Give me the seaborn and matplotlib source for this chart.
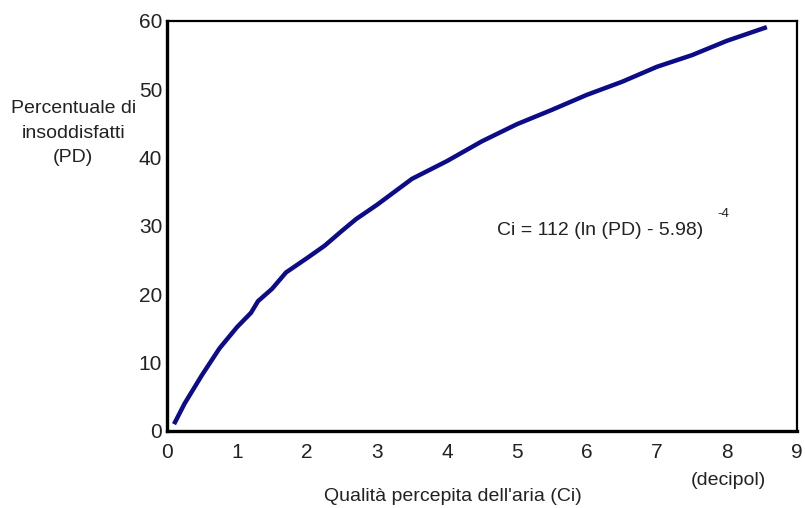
import matplotlib
matplotlib.use("Agg")
import matplotlib.pyplot as plt
import seaborn as sns
import pandas as pd

# Perceived air quality (decipol) vs. percentage dissatisfied
ci_decipol = [0.1, 0.25, 0.5, 0.75, 1.0, 1.2, 1.3, 1.5, 1.7, 2.0, 2.25, 2.5, 2.7,
              3.0, 3.5, 4.0, 4.5, 5.0, 5.5, 6.0, 6.5, 7.0, 7.5, 8.0, 8.57]
pd_percent = [1.0, 4.0, 8.2, 12.1, 15.2, 17.3, 19.0, 20.8, 23.2, 25.3, 27.1, 29.3, 31.0,
              33.1, 36.9, 39.5, 42.4, 44.9, 47.0, 49.2, 51.1, 53.3, 55.0, 57.1, 59.1]
x_ticks = [0, 1, 2, 3, 4, 5, 6, 7, 8, 9]
y_ticks = [0, 10, 20, 30, 40, 50, 60]

df = pd.DataFrame({"Ci": ci_decipol, "PD": pd_percent})

sns.set_style("white")
plt.rcParams["font.family"] = ["Liberation Sans", "DejaVu Sans"]

fig = plt.figure(figsize=(8.05, 5.08), dpi=100)
ax = fig.add_axes([0.2075, 0.1516, 0.7825, 0.8071])

sns.lineplot(data=df, x="Ci", y="PD", ax=ax, color="#0c0c88", linewidth=3.2,
             solid_capstyle="butt", sort=False)

ax.set_xlim(0, 9)
ax.set_ylim(0, 60)
ax.set_xticks(x_ticks)
ax.set_yticks(y_ticks)
ax.set_xlabel("")
ax.set_ylabel("")

for side in ("left", "bottom"):
    ax.spines[side].set_linewidth(2.4)
    ax.spines[side].set_color("black")
for side in ("top", "right"):
    ax.spines[side].set_linewidth(1.6)
    ax.spines[side].set_color("black")

ax.tick_params(axis="both", direction="inout", length=9, width=2.0, colors="black",
               labelsize=15, labelcolor="#222222")
ax.tick_params(axis="x", pad=4)
ax.tick_params(axis="y", pad=-1)

fig.text(0.091, 0.738, "Percentuale di\ninsoddisfatti\n(PD)", ha="center", va="center",
         fontsize=14, color="#222222", linespacing=1.6)
fig.text(0.563, 0.023, "Qualità percepita dell'aria (Ci)", ha="center", va="center",
         fontsize=14, color="#222222")
fig.text(0.905, 0.055, "(decipol)", ha="center", va="center",
         fontsize=14, color="#222222")

ax.text(4.72, 29.3, "Ci = 112 (ln (PD) - 5.98)", ha="left", va="center",
        fontsize=14, color="#222222")
ax.text(7.95, 31.8, "-4", ha="center", va="center", fontsize=9.5, color="#222222")

fig.savefig("out.png", dpi=100)
